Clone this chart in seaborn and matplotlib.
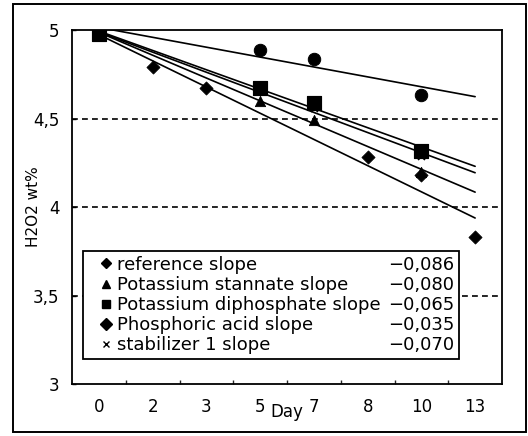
import numpy as np
import pandas as pd
import matplotlib
matplotlib.use("Agg")
import matplotlib.pyplot as plt
from matplotlib.lines import Line2D
from matplotlib.patches import Rectangle
from matplotlib.legend_handler import HandlerLine2D
import seaborn as sns

sns.set_theme(style="white")
plt.rcParams['font.family'] = ['DejaVu Sans']

# ---- data ----
days = ["0", "2", "3", "5", "7", "8", "10", "13"]
reference = [4.98, 4.79, 4.675, np.nan, np.nan, 4.28, 4.18, 3.83]
stannate = [4.98, np.nan, np.nan, 4.60, 4.49, np.nan, 4.20, np.nan]
diphosphate = [4.98, np.nan, np.nan, 4.675, 4.585, np.nan, 4.316, np.nan]
phosphoric = [4.98, np.nan, np.nan, 4.887, 4.835, np.nan, 4.63, np.nan]
stabilizer1 = [4.98, np.nan, np.nan, np.nan, 4.56, np.nan, 4.29, np.nan]

series_names = ["reference slope", "Potassium stannate slope",
                "Potassium diphosphate slope", "Phosphoric acid slope",
                "stabilizer 1 slope"]
slope_labels = ["\u22120,086", "\u22120,080", "\u22120,065", "\u22120,035", "\u22120,070"]
y_ticks = [3, 3.5, 4, 4.5, 5]
y_ticklabels = ["3", "3,5", "4", "4,5", "5"]

values = [reference, stannate, diphosphate, phosphoric, stabilizer1]
plot_markers = ["D", "^", "s", "o", "x"]
plot_sizes = [45, 55, 110, 80, 25]
legend_markers = ["D", "^", "s", "D", "x"]
legend_msize = [5, 6, 6, 6, 5]

idx = np.arange(len(days))
frames = []
for name, vals in zip(series_names, values):
    frames.append(pd.DataFrame({"idx": idx, "value": vals, "series": name}))
df = pd.concat(frames, ignore_index=True)

fig = plt.figure(figsize=(5.28, 4.36), dpi=100)
ax = fig.add_axes([72/528, 1-384/436, 430/528, 354/436])

# outer border
fig.patches.append(Rectangle((13/528, 4/436), 513/528, 428/436, transform=fig.transFigure,
                             fill=False, edgecolor="black", linewidth=1.4))

# dashed gridlines
for yv in [3.5, 4, 4.5]:
    ax.axhline(yv, color="black", linestyle=(0, (3.5, 2.5)), linewidth=1.2, zorder=1)

# trend lines (linear fit over categories)
for name, vals in zip(series_names, values):
    sub = df[(df.series == name) & df.value.notna()]
    coef = np.polyfit(sub.idx, sub.value, 1)
    line_df = pd.DataFrame({"idx": idx, "fit": np.polyval(coef, idx)})
    sns.lineplot(data=line_df, x="idx", y="fit", ax=ax, color="black",
                 linewidth=1.2, zorder=2)

# points
for name, m, s in zip(series_names, plot_markers, plot_sizes):
    sub = df[(df.series == name) & df.value.notna()]
    kw = dict(edgecolor="black") if m != "x" else dict(linewidth=1.2)
    sns.scatterplot(data=sub, x="idx", y="value", marker=m, s=s, color="black",
                    ax=ax, zorder=3, **kw)

ax.set_xlim(-0.5, len(days) - 0.5)
ax.set_ylim(3, 5)
ax.set_xticks(idx)
ax.set_xticklabels(days)
ax.set_xticks(np.arange(0.5, len(days) - 1, 1), minor=True)
ax.tick_params(axis="x", which="major", length=0, pad=10, labelsize=12, colors="black")
ax.tick_params(axis="x", which="minor", direction="in", length=3, width=1, bottom=True)
ax.set_yticks(y_ticks)
ax.set_yticklabels(y_ticklabels)
ax.tick_params(axis="y", which="major", direction="in", length=3, width=1, left=True,
               pad=9, labelsize=12, colors="black")

ax.set_xlabel("Day", fontsize=12, labelpad=-9, color="black")
ax.set_ylabel("H2O2 wt%", fontsize=11, color="black")
ax.yaxis.set_label_coords(-31/430, 0.5)

for sp in ax.spines.values():
    sp.set_color("black")
    sp.set_linewidth(1.3)
    sp.set_visible(True)

# legend: names column + slopes column
handles = [Line2D([], [], linestyle="none", marker=m, markersize=ms, color="black")
           for m, ms in zip(legend_markers, legend_msize)]
blank = [Line2D([], [], linestyle="none", marker=None) for _ in slope_labels]
leg = ax.legend(handles + blank, series_names + slope_labels, ncol=2,
                loc="lower left", bbox_to_anchor=(0.026, 0.071),
                frameon=True, fancybox=False, shadow=False, framealpha=1,
                edgecolor="black", fontsize=13, handlelength=1.33,
                handletextpad=0.3, labelspacing=0.12, columnspacing=-1.2,
                borderpad=0.25, borderaxespad=0,
                handler_map={Line2D: HandlerLine2D(xpad=0.72)})
leg.get_frame().set_linewidth(1.3)
for t in leg.get_texts():
    t.set_color("black")

fig.savefig("out.png", dpi=100)
